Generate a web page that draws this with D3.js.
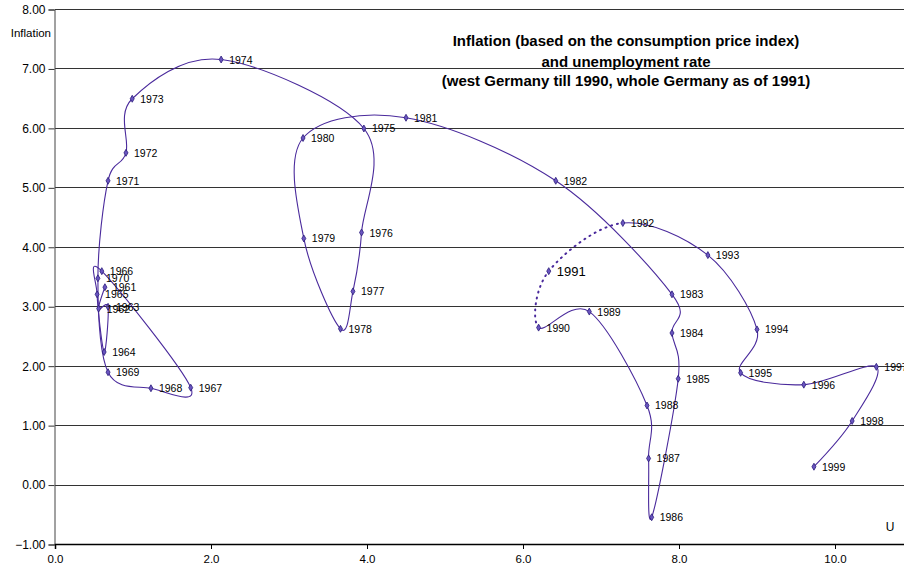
<!DOCTYPE html>
<html>
<head>
<meta charset="utf-8">
<script src="https://cdn.jsdelivr.net/npm/d3@7"></script>
<style>
  html, body { margin: 0; padding: 0; background: #fff; }
  svg { display: block; }
  text { font-family: "Liberation Sans", Arial, sans-serif; }
</style>
</head>
<body>
<svg id="chart" width="904" height="573"></svg>
<script>
// ---- data ----
const years = [1961,1962,1963,1964,1965,1966,1967,1968,1969,1970,
               1971,1972,1973,1974,1975,1976,1977,1978,1979,1980,
               1981,1982,1983,1984,1985,1986,1987,1988,1989,1990,
               1991,1992,1993,1994,1995,1996,1997,1998,1999];
const unemployment = [0.64,0.56,0.68,0.63,0.54,0.60,1.74,1.23,0.68,0.55,
                      0.68,0.91,0.99,2.13,3.96,3.93,3.82,3.66,3.19,3.18,
                      4.50,6.42,7.91,7.91,7.99,7.65,7.61,7.59,6.85,6.20,
                      6.33,7.28,8.37,9.00,8.79,9.60,10.53,10.22,9.73];
const inflation = [3.32,2.96,2.99,2.23,3.20,3.59,1.63,1.62,1.89,3.47,
                   5.11,5.58,6.49,7.15,5.99,4.24,3.25,2.62,4.14,5.83,
                   6.17,5.11,3.20,2.55,1.78,-0.55,0.44,1.33,2.91,2.64,
                   3.59,4.40,3.86,2.61,1.88,1.68,1.98,1.07,0.30];
const yTicks = [-1,0,1,2,3,4,5,6,7,8];
const xTicks = [0,2,4,6,8,10];
const dottedFrom = 1990, dottedTo = 1992;
const titleLines = ["Inflation (based on the consumption price index)",
                    "and unemployment rate",
                    "(west Germany till 1990, whole Germany as of 1991)"];

const points = years.map((y, i) => ({year: y, u: unemployment[i], inf: inflation[i]}));

// ---- layout ----
const svg = d3.select("#chart");
const x = d3.scaleLinear().domain([0, 12]).range([55, 55 + 12 * 78]);
const y = d3.scaleLinear().domain([-1, 8]).range([544, 9]);
const lineColor = "#4a2a9c";

// gridlines
svg.append("g").selectAll("line").data(yTicks.filter(d => d !== -1)).join("line")
  .attr("x1", x(0)).attr("x2", 904)
  .attr("y1", d => Math.round(y(d)) + 0.5).attr("y2", d => Math.round(y(d)) + 0.5)
  .attr("stroke", "#333").attr("stroke-width", 1);

// y axis
const yAxis = d3.axisLeft(y).tickValues(yTicks).tickFormat(d3.format(".2f")).tickSize(6).tickPadding(3);
const gy = svg.append("g").attr("transform", `translate(${x(0) - 0.5},0.5)`).call(yAxis);
gy.select(".domain").attr("stroke", "#444");
gy.selectAll(".tick line").attr("stroke", "#333");
gy.selectAll("text").attr("font-size", 12).attr("fill", "#000")
  .style("font-family", '"Liberation Sans", Arial, sans-serif');

// x axis
const xAxis = d3.axisBottom(x).tickValues(xTicks).tickFormat(d3.format(".1f")).tickSize(5).tickPadding(6);
const gx = svg.append("g").attr("transform", `translate(0,${y(-1)})`).call(xAxis);
gx.select(".domain").attr("stroke", "#000").attr("stroke-width", 1.5);
gx.selectAll(".tick line").attr("stroke", "#000");
gx.selectAll("text").attr("font-size", 11.5).attr("fill", "#000")
  .style("font-family", '"Liberation Sans", Arial, sans-serif');

// axis titles
svg.append("text").attr("x", 51).attr("y", 37).attr("text-anchor", "end")
  .attr("font-size", 11.5).text("Inflation");
svg.append("text").attr("x", 890).attr("y", 531).attr("text-anchor", "middle")
  .attr("font-size", 12).text("U");

// title
svg.append("g").selectAll("text").data(titleLines).join("text")
  .attr("x", 626).attr("y", (d, i) => [46, 67, 86][i])
  .attr("text-anchor", "middle").attr("font-size", 15).attr("font-weight", "bold")
  .text(d => d);

// smoothed line, recorded per segment via a custom context
const segs = [];
let cur = null;
const rec = {
  moveTo(a, b) { cur = [a, b]; },
  lineTo(a, b) { segs.push(`M${cur[0]},${cur[1]}L${a},${b}`); cur = [a, b]; },
  bezierCurveTo(a, b, c, d, e, f) { segs.push(`M${cur[0]},${cur[1]}C${a},${b},${c},${d},${e},${f}`); cur = [e, f]; },
  closePath() {}
};
d3.line().x(d => x(d.u)).y(d => y(d.inf)).curve(d3.curveCardinal.tension(0)).context(rec)(points);

svg.append("g").selectAll("path").data(segs).join("path")
  .attr("d", d => d)
  .attr("fill", "none")
  .attr("stroke", lineColor)
  .attr("stroke-width", (d, i) => (points[i].year >= dottedFrom && points[i].year < dottedTo) ? 2 : 1.1)
  .attr("stroke-dasharray", (d, i) => (points[i].year >= dottedFrom && points[i].year < dottedTo) ? "1,5" : null)
  .attr("stroke-linecap", "round");

// markers
svg.append("g").selectAll("path").data(points).join("path")
  .attr("transform", d => `translate(${x(d.u)},${y(d.inf)})`)
  .attr("d", d3.symbol().type(d3.symbolDiamond).size(14))
  .attr("fill", "#6a55c0").attr("stroke", "#2a1a7a").attr("stroke-width", 0.8);

// labels
svg.append("g").selectAll("text").data(points).join("text")
  .attr("x", d => x(d.u) + 8)
  .attr("y", d => y(d.inf) + (d.year === 1991 ? 5 : 4))
  .attr("font-size", d => d.year === 1991 ? 13 : 10.5)
  .attr("fill", "#000")
  .text(d => d.year);
</script>
</body>
</html>
